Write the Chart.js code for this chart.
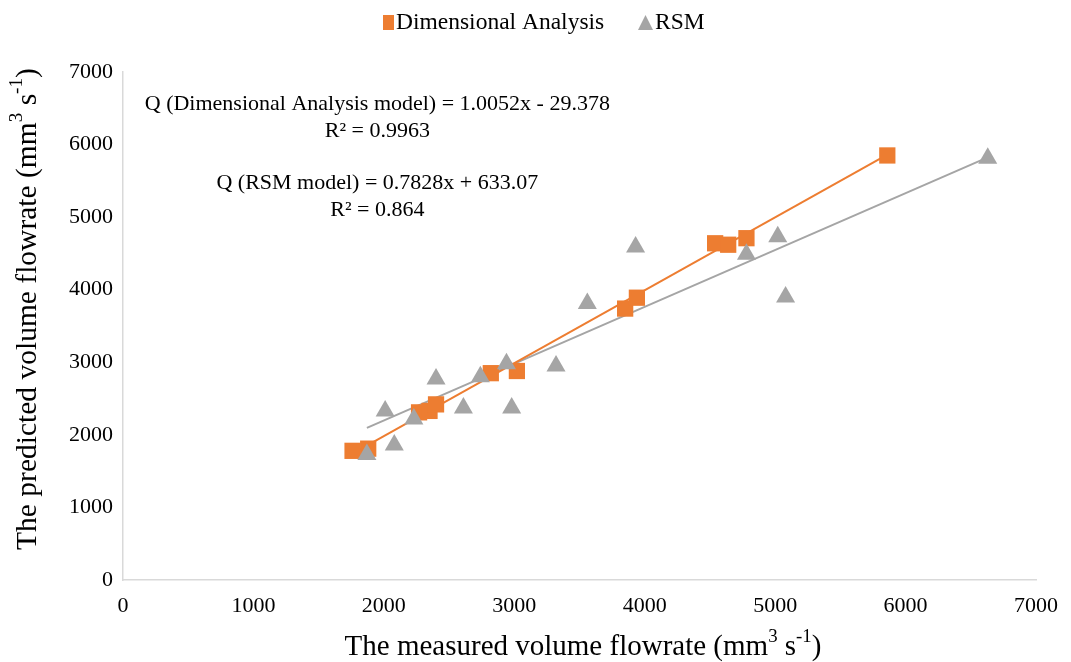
<!DOCTYPE html>
<html><head><meta charset="utf-8">
<script src="https://cdn.jsdelivr.net/npm/chart.js@4.4.0/dist/chart.umd.min.js"></script>
<style>html,body{margin:0;padding:0;background:#fff}</style>
</head><body>
<canvas id="c" width="1071" height="662" style="display:block;width:1071px;height:662px"></canvas>
<script>
// ---- data ----
const daMeasured  = [1760, 1880, 2270, 2350, 2400, 2820, 3020, 3850, 3940, 4540, 4640, 4780, 5860];
const daPredicted = [1780, 1810, 2310, 2330, 2420, 2850, 2880, 3740, 3890, 4640, 4620, 4710, 5850];
const rsmMeasured  = [1870, 2010, 2080, 2230, 2400, 2610, 2740, 2940, 2980, 3320, 3560, 3930, 4780, 5020, 5080, 6630];
const rsmPredicted = [1730, 2330, 1860, 2220, 2770, 2370, 2800, 2980, 2370, 2950, 3810, 4590, 4490, 4730, 3900, 5810];
const xTicks = [0, 1000, 2000, 3000, 4000, 5000, 6000, 7000];
const yTicks = [0, 1000, 2000, 3000, 4000, 5000, 6000, 7000];
const seriesNames = ['Dimensional Analysis', 'RSM'];
const daFit  = [1.0052, -29.378];
const rsmFit = [0.7828, 633.07];
const daEquation  = 'Q (Dimensional Analysis model) = 1.0052x - 29.378';
const daR2  = 'R² = 0.9963';
const rsmEquation = 'Q (RSM model) = 0.7828x + 633.07';
const rsmR2 = 'R² = 0.864';

const ORANGE = '#ED7D31', GRAY = '#A5A5A5';
const FONT = "'Liberation Serif', 'Times New Roman', serif";

const toPts = (xs, ys) => xs.map((x, i) => ({x, y: ys[i]}));
const fitLine = (xs, f) => {
  const lo = Math.min(...xs), hi = Math.max(...xs);
  return [{x: lo, y: f[0] * lo + f[1]}, {x: hi, y: f[0] * hi + f[1]}];
};

function drawRich(ctx, parts, x, y, size) {
  const sup = size * 0.65;
  let w = 0;
  parts.forEach(p => { ctx.font = (p.sup ? sup : size) + 'px ' + FONT; w += ctx.measureText(p.t).width; });
  let cx = x - w / 2;
  parts.forEach(p => {
    ctx.font = (p.sup ? sup : size) + 'px ' + FONT;
    ctx.fillText(p.t, cx, p.sup ? y - size * 0.36 : y);
    cx += ctx.measureText(p.t).width;
  });
}

const overlay = {
  id: 'overlay',
  afterDraw(chart) {
    const ctx = chart.ctx, xs = chart.scales.x, ys = chart.scales.y;
    ctx.save();
    ctx.fillStyle = '#000';
    ctx.textBaseline = 'middle';
    ctx.textAlign = 'center';
    ctx.font = '22px ' + FONT;
    const cx = xs.getPixelForValue(1950);
    ctx.fillText(daEquation, cx, ys.getPixelForValue(6560));
    ctx.fillText(daR2, cx, ys.getPixelForValue(6180));
    ctx.fillText(rsmEquation, cx, ys.getPixelForValue(5470));
    ctx.fillText(rsmR2, cx, ys.getPixelForValue(5100));
    // axis titles
    ctx.textAlign = 'left';
    drawRich(ctx, [{t:'The measured volume flowrate (mm'},{t:'3',sup:1},{t:' s'},{t:'-1',sup:1},{t:')'}], 583, 647, 29);
    ctx.save();
    ctx.translate(28, 309);
    ctx.rotate(-Math.PI / 2);
    drawRich(ctx, [{t:'The predicted volume flowrate (mm'},{t:'3',sup:1},{t:' s'},{t:'-1',sup:1},{t:')'}], 0, 0, 29.5);
    ctx.restore();
    // legend
    ctx.font = '23.5px ' + FONT;
    ctx.textAlign = 'left';
    ctx.fillStyle = ORANGE;
    ctx.fillRect(383, 15, 11, 15);
    ctx.fillStyle = '#000';
    ctx.fillText(seriesNames[0], 396, 23);
    ctx.fillStyle = GRAY;
    ctx.beginPath();
    ctx.moveTo(645.5, 15); ctx.lineTo(653, 30); ctx.lineTo(638, 30); ctx.closePath(); ctx.fill();
    ctx.fillStyle = '#000';
    ctx.fillText(seriesNames[1], 655, 23);
    ctx.restore();
  }
};

const tickFont = {family: FONT, size: 22};
const plain = v => String(v);
new Chart(document.getElementById('c'), {
  type: 'scatter',
  data: {
    datasets: [
      {label: seriesNames[1], data: toPts(rsmMeasured, rsmPredicted), pointStyle: 'triangle', pointRadius: 11, pointHoverRadius: 11,
       backgroundColor: GRAY, borderColor: GRAY, borderWidth: 0, order: 0},
      {label: seriesNames[0], data: toPts(daMeasured, daPredicted), pointStyle: 'rect', pointRadius: 11.5, pointHoverRadius: 11.5,
       backgroundColor: ORANGE, borderColor: ORANGE, borderWidth: 0, order: 1},
      {type: 'line', label: 'da-fit', data: fitLine(daMeasured, daFit), borderColor: ORANGE, borderWidth: 2, pointRadius: 0, fill: false, order: 2},
      {type: 'line', label: 'rsm-fit', data: fitLine(rsmMeasured, rsmFit), borderColor: GRAY, borderWidth: 2, pointRadius: 0, fill: false, order: 3}
    ]
  },
  options: {
    responsive: false,
    animation: false,
    devicePixelRatio: 1,
    layout: {padding: {top: 72, right: 31, left: 0, bottom: 0}},
    plugins: {legend: {display: false}, tooltip: {enabled: false}},
    scales: {
      x: {type: 'linear', min: 0, max: 7000,
          afterBuildTicks: s => { s.ticks = xTicks.map(v => ({value: v})); },
          afterFit: s => { s.height = 82; },
          ticks: {font: tickFont, color: '#000', padding: 13, maxRotation: 0, callback: plain},
          grid: {display: false, drawTicks: false},
          border: {display: true, color: '#D9D9D9', width: 1.5}},
      y: {type: 'linear', min: 0, max: 7000,
          afterBuildTicks: s => { s.ticks = yTicks.map(v => ({value: v})); },
          afterFit: s => { s.width = 123; },
          ticks: {font: tickFont, color: '#000', padding: 10, callback: plain},
          grid: {display: false, drawTicks: false},
          border: {display: true, color: '#D9D9D9', width: 1.5}}
    }
  },
  plugins: [overlay]
});
</script>
</body></html>
